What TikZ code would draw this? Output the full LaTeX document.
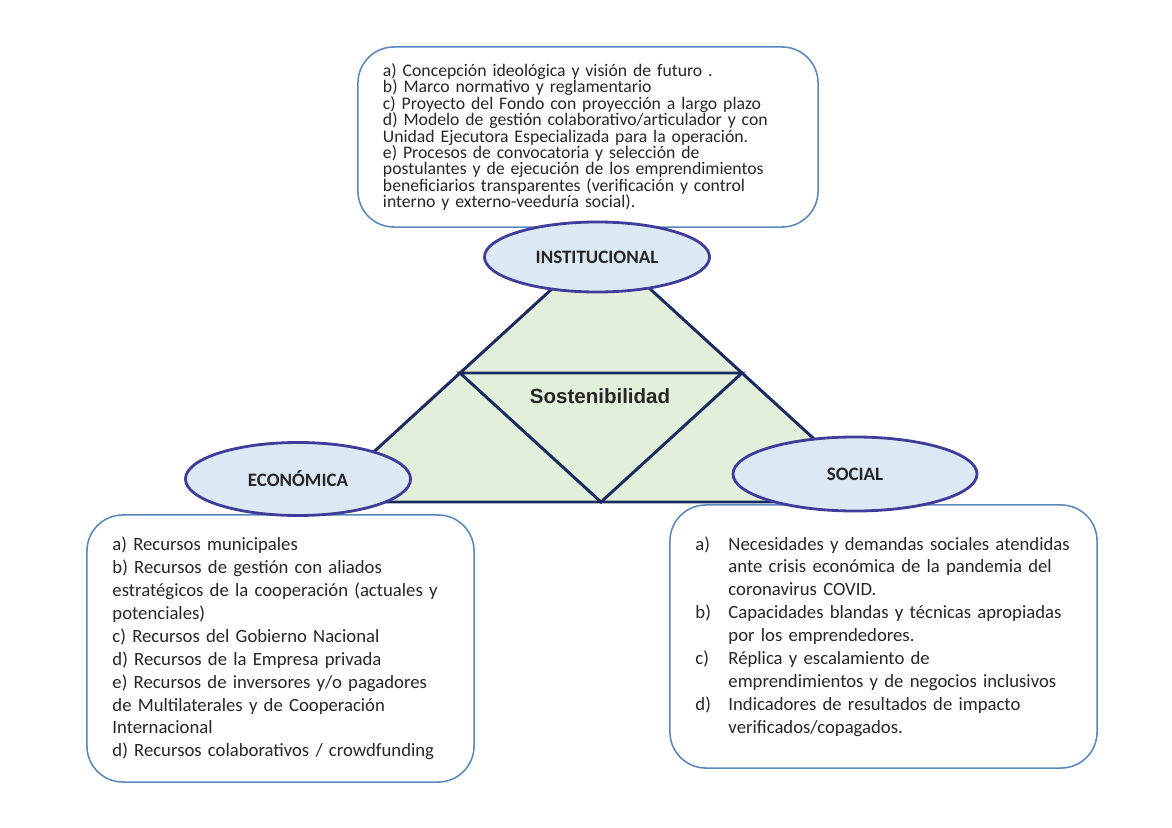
\documentclass[tikz,border=0pt]{standalone}
\usepackage{fontspec}
\setmainfont{Carlito}
\newfontfamily\arialf{Liberation Sans}
\usepackage{tikz}
\usetikzlibrary{shapes.geometric}

\definecolor{trifill}{HTML}{E2EFDA}
\definecolor{triline}{HTML}{1C2A60}
\definecolor{ellfill}{HTML}{DDE8F5}
\definecolor{ellline}{HTML}{3F3D99}
\definecolor{boxline}{HTML}{5A86BE}
\definecolor{txtgray}{HTML}{262626}

\newcommand{\itm}[1]{\makebox[0.825cm][l]{#1}}

\begin{document}
\begin{tikzpicture}[x=0.025cm,y=-0.025cm,
  tri/.style={draw=triline,line width=2.1pt,line join=miter},
  dimension/.style={ellipse,draw=ellline,fill=ellfill,line width=2pt,inner sep=0pt,
    font=\fontsize{13.5}{15}\selectfont\bfseries,text=txtgray},
  listbox/.style={rectangle,rounded corners=0.9cm,draw=boxline,line width=1.1pt,fill=white,
    inner sep=0pt,text=txtgray}]
\useasboundingbox (0,0) rectangle (1172,828);

% triangulo
\coordinate (top) at (601,244);
\coordinate (left) at (319,502);
\coordinate (right) at (883,502);
\coordinate (midl) at (460,373);
\coordinate (midr) at (742,373);
\coordinate (midb) at (601,502);
\fill[trifill] (top) -- (left) -- (right) -- cycle;
\draw[tri] (top) -- (left) -- (right) -- cycle;
\draw[tri] (midl) -- (midr) -- (midb) -- cycle;
\node[font=\arialf\fontsize{14.6}{16}\selectfont\bfseries,text=txtgray] (sostenib) at (600,396) {Sostenibilidad};

% cuadros
\node[listbox,minimum width=11.5cm,minimum height=4.5cm,text width=10.25cm,align=left,
  font=\fontsize{12.6}{11.7}\selectfont] (boxinst) at (588,137) {%
a) Concepción ideológica y visión de futuro .\\
b) Marco normativo y reglamentario\\
c) Proyecto del Fondo con proyección a largo plazo\\
d) Modelo de gestión colaborativo/articulador y con\\
Unidad Ejecutora Especializada para la operación.\\
e) Procesos de convocatoria y selección de\\
postulantes y de ejecución de los emprendimientos\\
beneficiarios transparentes (verificación y control\\
interno y externo-veeduría social).};

\node[listbox,minimum width=9.675cm,minimum height=6.675cm,text width=8.4cm,align=left,
  font=\fontsize{13.3}{16.3}\selectfont] (boxecon) at (280.5,648.5) {%
a) Recursos municipales\\
b) Recursos de gestión con aliados\\
estratégicos de la cooperación (actuales y\\
potenciales)\\
c) Recursos del Gobierno Nacional\\
d) Recursos de la Empresa privada\\
e) Recursos de inversores y/o pagadores\\
de Multilaterales y de Cooperación\\
Internacional\\
d) Recursos colaborativos / crowdfunding};

\node[listbox,minimum width=10.675cm,minimum height=6.575cm,text width=9.4cm,align=left,
  font=\fontsize{13.3}{16.3}\selectfont] (boxsoc) at (883.5,636.5) {%
\itm{a)}Necesidades y demandas sociales atendidas\\
\itm{}ante crisis económica de la pandemia del\\
\itm{}coronavirus COVID.\\
\itm{b)}Capacidades blandas y técnicas apropiadas\\
\itm{}por los emprendedores.\\
\itm{c)}Réplica y escalamiento de\\
\itm{}emprendimientos y de negocios inclusivos\\
\itm{d)}Indicadores de resultados de impacto\\
\itm{}verificados/copagados.};

% dimensiones
\node[dimension,minimum width=5.625cm,minimum height=1.75cm] (inst) at (597,257) {INSTITUCIONAL};
\node[dimension,minimum width=5.625cm,minimum height=1.825cm] (econ) at (298,479) {ECONÓMICA};
\node[dimension,minimum width=6.1cm,minimum height=1.85cm] (soc) at (855,474) {SOCIAL};
\end{tikzpicture}
\end{document}
